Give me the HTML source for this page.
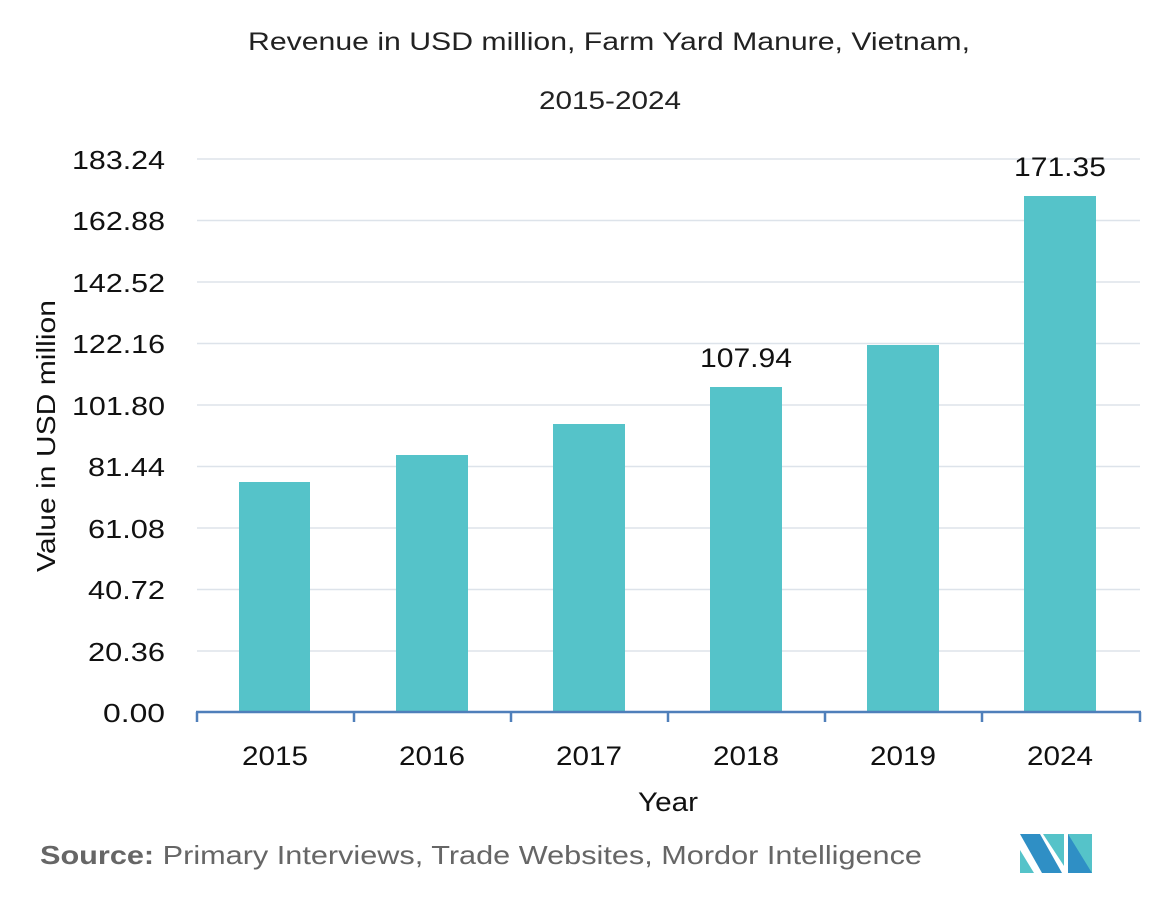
<!DOCTYPE html>
<html><head><style>
body{margin:0;background:#fff;width:1162px;height:894px;overflow:hidden}
svg text{font-family:"Liberation Sans",sans-serif}
</style></head><body>
<svg width="1162" height="894" xmlns="http://www.w3.org/2000/svg">
<text x="248" y="50" font-size="25" textLength="722" lengthAdjust="spacingAndGlyphs" fill="#222">Revenue in USD million, Farm Yard Manure, Vietnam,</text>
<text x="539" y="109" font-size="25" textLength="142" lengthAdjust="spacingAndGlyphs" fill="#222">2015-2024</text>
<g stroke="#dde3ea" stroke-width="1.5">
<line x1="197" x2="1140" y1="159" y2="159"/><line x1="197" x2="1140" y1="220.5" y2="220.5"/>
<line x1="197" x2="1140" y1="282" y2="282"/><line x1="197" x2="1140" y1="343.5" y2="343.5"/>
<line x1="197" x2="1140" y1="405" y2="405"/><line x1="197" x2="1140" y1="466.5" y2="466.5"/>
<line x1="197" x2="1140" y1="528" y2="528"/><line x1="197" x2="1140" y1="589.5" y2="589.5"/>
<line x1="197" x2="1140" y1="651" y2="651"/>
</g>
<g font-size="26" fill="#111" text-anchor="end" lengthAdjust="spacingAndGlyphs">
<text x="165" y="169" textLength="93" lengthAdjust="spacingAndGlyphs">183.24</text><text x="165" y="230" textLength="93" lengthAdjust="spacingAndGlyphs">162.88</text><text x="165" y="292" textLength="93" lengthAdjust="spacingAndGlyphs">142.52</text>
<text x="165" y="353" textLength="93" lengthAdjust="spacingAndGlyphs">122.16</text><text x="165" y="415" textLength="93" lengthAdjust="spacingAndGlyphs">101.80</text><text x="165" y="476" textLength="77" lengthAdjust="spacingAndGlyphs">81.44</text>
<text x="165" y="538" textLength="77" lengthAdjust="spacingAndGlyphs">61.08</text><text x="165" y="599" textLength="77" lengthAdjust="spacingAndGlyphs">40.72</text><text x="165" y="661" textLength="77" lengthAdjust="spacingAndGlyphs">20.36</text>
<text x="165" y="722" textLength="62" lengthAdjust="spacingAndGlyphs">0.00</text>
</g>
<text transform="translate(55,436) rotate(-90)" font-size="26" text-anchor="middle" textLength="272" lengthAdjust="spacingAndGlyphs" fill="#111">Value in USD million</text>
<g fill="#55c3c9">
<rect x="239" y="482" width="71" height="230"/><rect x="396" y="455" width="72" height="257"/>
<rect x="553" y="424" width="72" height="288"/><rect x="710" y="387" width="72" height="325"/>
<rect x="867" y="345" width="72" height="367"/><rect x="1024" y="196" width="72" height="516"/>
</g>
<g stroke="#4f7fba" stroke-width="2.5" fill="none">
<line x1="196" x2="1141" y1="712" y2="712"/>
<line x1="197" x2="197" y1="712" y2="722"/><line x1="354" x2="354" y1="712" y2="722"/>
<line x1="511" x2="511" y1="712" y2="722"/><line x1="668" x2="668" y1="712" y2="722"/>
<line x1="825" x2="825" y1="712" y2="722"/><line x1="982" x2="982" y1="712" y2="722"/>
<line x1="1140" x2="1140" y1="712" y2="722"/>
</g>
<g font-size="27" fill="#111" text-anchor="middle">
<text x="275" y="765" textLength="66" lengthAdjust="spacingAndGlyphs">2015</text><text x="432" y="765" textLength="66" lengthAdjust="spacingAndGlyphs">2016</text><text x="589" y="765" textLength="66" lengthAdjust="spacingAndGlyphs">2017</text>
<text x="746" y="765" textLength="66" lengthAdjust="spacingAndGlyphs">2018</text><text x="903" y="765" textLength="66" lengthAdjust="spacingAndGlyphs">2019</text><text x="1060" y="765" textLength="66" lengthAdjust="spacingAndGlyphs">2024</text>
<text x="746" y="367" textLength="92" lengthAdjust="spacingAndGlyphs">107.94</text><text x="1060" y="176" textLength="92" lengthAdjust="spacingAndGlyphs">171.35</text>
<text x="668" y="811" textLength="60" lengthAdjust="spacingAndGlyphs">Year</text>
</g>
<text x="40" y="864" font-size="26" fill="#666" textLength="882" lengthAdjust="spacingAndGlyphs"><tspan font-weight="bold">Source:</tspan> Primary Interviews, Trade Websites, Mordor Intelligence</text>
<g>
<polygon points="1020,834 1040,834 1062,873 1042,873" fill="#2f8fc5"/>
<polygon points="1020,850 1034,873 1020,873" fill="#55c3c9"/>
<polygon points="1043,834 1064,834 1064,866" fill="#55c3c9"/>
<polygon points="1068,834 1092,834 1092,873 1068,873" fill="#55c3c9"/>
<polygon points="1068,834 1092,873 1068,873" fill="#2f8fc5"/>
</g>
</svg>
</body></html>
